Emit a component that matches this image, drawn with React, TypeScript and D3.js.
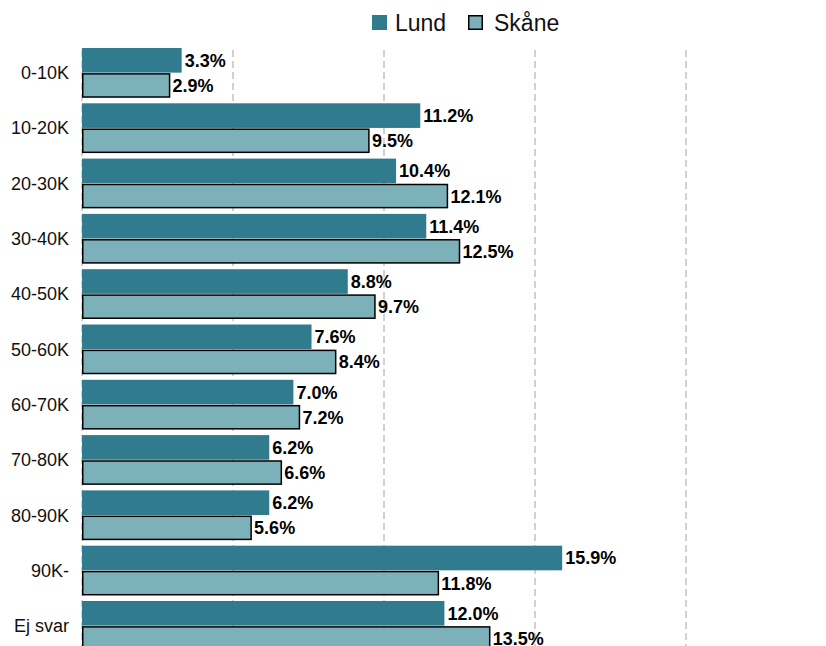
import React from "react";
import * as d3 from "d3";

const categories = ["0-10K", "10-20K", "20-30K", "30-40K", "40-50K", "50-60K", "60-70K", "70-80K", "80-90K", "90K-", "Ej svar"];
const seriesNames = ["Lund", "Skåne"];
const lund = [3.3, 11.2, 10.4, 11.4, 8.8, 7.6, 7.0, 6.2, 6.2, 15.9, 12.0];
const skane = [2.9, 9.5, 12.1, 12.5, 9.7, 8.4, 7.2, 6.6, 5.6, 11.8, 13.5];
const gridTicks = [0, 5, 10, 15, 20];

const W = 826;
const H = 646;
const colors = ["#307b8e", "#7db1ba"];

export default function App() {
  const step = 55.3;
  const top = 48 - step * 0.05;
  const y = d3.scaleBand<string>().domain(categories).range([top, top + step * categories.length]).paddingInner(0.1).paddingOuter(0.05);
  const sub = d3.scaleBand<string>().domain(seriesNames).range([0, y.bandwidth()]).paddingInner(0.02);
  const x = d3.scaleLinear().domain([0, 20]).range([82, 686]);
  const series = [lund, skane];
  const font = "'Liberation Sans', Arial, sans-serif";

  return (
    <div style={{ position: "fixed", left: 0, top: 0, width: W, height: H, overflow: "hidden", background: "#fff" }}>
      <svg width={W} height={H} style={{ display: "block" }} fontFamily={font}>
        {gridTicks.map((t) => (
          <line key={t} x1={x(t)} x2={x(t)} y1={50} y2={H} stroke="#b3b3b3" strokeWidth={1.2} strokeDasharray="7,4" />
        ))}
        {categories.map((c, i) => {
          const y0 = y(c)!;
          return (
            <g key={c}>
              <text x={69} y={y0 + y.bandwidth() / 2} dy="0.35em" textAnchor="end" fontSize={18} fill="#111">{c}</text>
              {seriesNames.map((s, j) => {
                const v = series[j][i];
                const by = y0 + sub(s)!;
                const bh = sub.bandwidth();
                return (
                  <g key={s}>
                    {j === 0 ? (
                      <rect x={x(0)} y={by} width={x(v) - x(0)} height={bh} fill={colors[0]} />
                    ) : (
                      <rect x={x(0) + 0.75} y={by + 0.75} width={x(v) - x(0) - 0.75} height={bh - 1.5} fill={colors[1]} stroke="#000" strokeWidth={1.5} />
                    )}
                    <text x={x(v) + 3} y={by + bh / 2} dy="0.36em" fontSize={18} fontWeight="bold" fill="#000">{v.toFixed(1)}%</text>
                  </g>
                );
              })}
            </g>
          );
        })}
        <g>
          <rect x={372} y={15} width={15} height={15} fill={colors[0]} />
          <text x={395} y={22.5} dy="0.36em" fontSize={23} fill="#111">Lund</text>
          <rect x={468.75} y={15.75} width={13.5} height={13.5} fill={colors[1]} stroke="#000" strokeWidth={1.5} />
          <text x={494} y={22.5} dy="0.36em" fontSize={23} fill="#111">Skåne</text>
        </g>
      </svg>
    </div>
  );
}
